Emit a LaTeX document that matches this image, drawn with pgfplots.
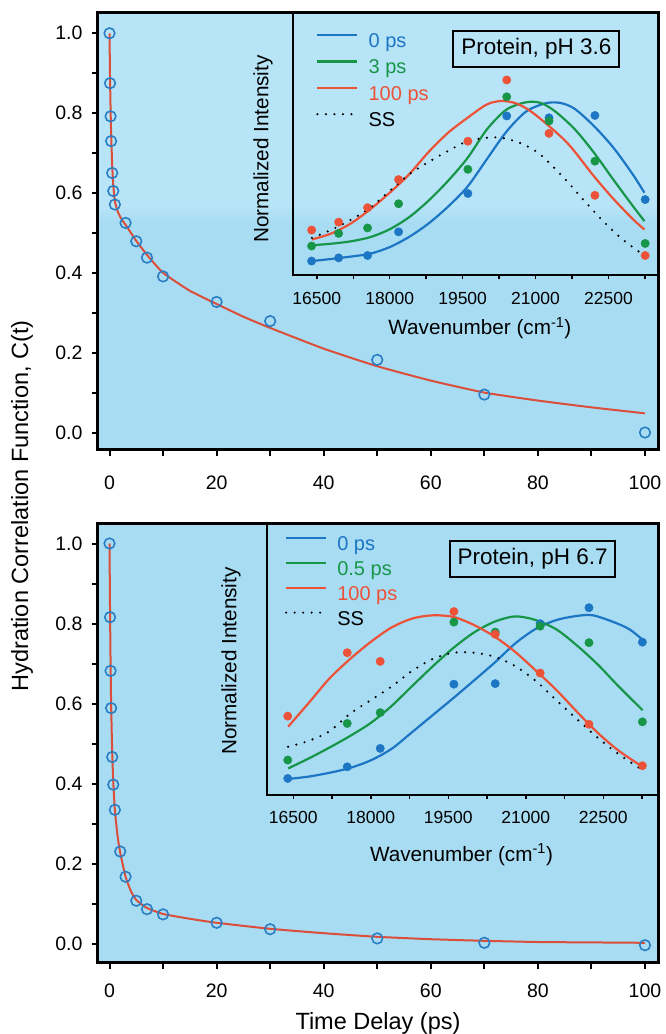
\documentclass[border=0pt]{standalone}
\usepackage{fontspec}
\setmainfont{Liberation Sans}
\usepackage{pgfplots}
\pgfplotsset{compat=1.18}
\usepackage{pgfplotstable}

\definecolor{bgblue}{RGB}{168,220,243}
\definecolor{bglight}{RGB}{184,228,247}
\definecolor{cblue}{RGB}{28,118,196}
\definecolor{cgreen}{RGB}{24,150,72}
\definecolor{cred}{RGB}{236,82,56}
\definecolor{fitred}{RGB}{218,78,58}
\definecolor{circblue}{RGB}{42,126,196}

% ---------- hydration correlation function C(t) ----------
\pgfplotstableread{
t    C
0    1.000
0.1  0.875
0.2  0.792
0.3  0.730
0.5  0.650
0.7  0.605
1    0.571
3    0.525
5    0.479
7    0.438
10   0.391
20   0.327
30   0.279
50   0.182
70   0.095
100  0.000
}\ctacid
\pgfplotstableread{
t    C
0    1.000
0.1  0.885
0.2  0.810
0.3  0.750
0.5  0.670
0.7  0.620
1    0.580
1.5  0.555
2    0.540
3    0.520
4    0.500
5    0.480
7    0.445
10   0.400
15   0.355
20   0.322
25   0.290
30   0.262
40   0.210
50   0.166
60   0.130
70   0.100
80   0.080
90   0.063
100  0.048
}\fitacid
\pgfplotstableread{
t    C
0    1.000
0.1  0.816
0.2  0.682
0.3  0.589
0.5  0.467
0.7  0.398
1    0.335
2    0.231
3    0.168
5    0.108
7    0.087
10   0.074
20   0.053
30   0.037
50   0.014
70   0.003
100  -0.003
}\ctneutral
\pgfplotstableread{
t    C
0    1.000
0.1  0.830
0.2  0.700
0.3  0.600
0.5  0.480
0.7  0.405
1    0.335
1.5  0.270
2    0.228
3    0.168
4    0.132
5    0.110
7    0.090
10   0.075
15   0.063
20   0.053
30   0.038
40   0.027
50   0.018
60   0.012
70   0.008
80   0.005
90   0.004
100  0.003
}\fitneutral

% ---------- time-resolved spectra, pH 3.6 ----------
\pgfplotstableread{
wn     b      g      r
16393  0.055  0.112  0.173
16949  0.067  0.160  0.203
17544  0.076  0.181  0.258
18182  0.166  0.273  0.365
19608  0.312  0.404  0.511
20408  0.607  0.680  0.744
21277  0.600  0.588  0.541
22222  0.609  0.435  0.305
23256  0.289  0.122  0.076
}\ptsacid
% fitted spectra: 0 ps, 3 ps, 100 ps and steady state
\pgfplotstableread{
wn     y
16400  0.055
16800  0.063
17200  0.072
17600  0.083
18000  0.108
18400  0.147
18800  0.198
19200  0.262
19600  0.338
20000  0.443
20400  0.547
20800  0.623
21200  0.655
21500  0.657
21800  0.635
22200  0.569
22600  0.487
23000  0.385
23240  0.315
}\blueacid
\pgfplotstableread{
wn     y
16400  0.115
16800  0.121
17200  0.130
17600  0.146
18000  0.176
18400  0.222
18800  0.285
19200  0.360
19600  0.447
20000  0.556
20400  0.631
20800  0.659
21100  0.657
21400  0.625
21800  0.558
22200  0.468
22600  0.365
23000  0.265
23240  0.207
}\greenacid
\pgfplotstableread{
wn     y
16400  0.137
16800  0.160
17200  0.198
17600  0.252
18000  0.315
18400  0.385
18800  0.470
19200  0.543
19600  0.600
20000  0.651
20300  0.664
20600  0.655
20900  0.625
21300  0.565
21700  0.495
22200  0.378
22600  0.292
23000  0.215
23240  0.175
}\redacid
\pgfplotstableread{
wn     y
16400  0.143
16800  0.174
17200  0.212
17600  0.258
18000  0.322
18400  0.385
18800  0.432
19200  0.474
19600  0.511
20000  0.524
20300  0.524
20700  0.503
21100  0.460
21600  0.368
22000  0.285
22400  0.205
22800  0.136
23240  0.076
}\ssacid

% ---------- time-resolved spectra, pH 6.7 ----------
\pgfplotstableread{
wn     b      g      r
16393  0.061  0.129  0.291
17544  0.104  0.264  0.525
18182  0.172  0.304  0.493
19608  0.409  0.638  0.677
20408  0.411  0.601  0.593
21277  0.632  0.623  0.450
22222  0.691  0.562  0.261
23256  0.564  0.270  0.108
}\ptsneutral
\pgfplotstableread{
wn     y
16400  0.059
16800  0.068
17200  0.082
17600  0.100
18000  0.128
18400  0.170
18800  0.232
19200  0.295
19600  0.358
20000  0.423
20400  0.489
20800  0.560
21200  0.614
21600  0.646
22000  0.661
22300  0.663
22700  0.638
23000  0.612
23260  0.573
}\blueneutral
\pgfplotstableread{
wn     y
16400  0.098
16800  0.135
17200  0.175
17600  0.218
18000  0.266
18400  0.328
18800  0.402
19200  0.475
19600  0.543
20000  0.600
20400  0.640
20800  0.659
21200  0.645
21600  0.610
22000  0.550
22400  0.480
22800  0.400
23260  0.313
}\greenneutral
\pgfplotstableread{
wn     y
16400  0.252
16800  0.340
17200  0.430
17600  0.502
18000  0.565
18400  0.618
18800  0.651
19200  0.663
19600  0.657
20000  0.627
20400  0.584
20800  0.527
21200  0.458
21600  0.386
22000  0.305
22400  0.228
22800  0.163
23260  0.104
}\redneutral
\pgfplotstableread{
wn     y
16400  0.178
16800  0.200
17200  0.235
17600  0.300
18000  0.350
18400  0.400
18800  0.458
19200  0.502
19600  0.525
20000  0.525
20400  0.510
20800  0.475
21200  0.420
21600  0.348
22000  0.278
22400  0.210
22800  0.150
23260  0.092
}\ssneutral

\pgfplotsset{
  mainax/.style={
    scale only axis, width=560pt,
    xmin=-2.15, xmax=102.43,
    axis on top,
    axis line style={line width=3pt},
    tick align=outside, tick pos=left,
    xtick={0,20,40,60,80,100}, xticklabels={0,20,40,60,80,100},
    minor xtick={10,30,50,70,90},
    ytick={0,0.2,0.4,0.6,0.8,1.0}, yticklabels={0.0,0.2,0.4,0.6,0.8,1.0},
    minor ytick={0.1,0.3,0.5,0.7,0.9},
    major tick length=6pt, minor tick length=6pt,
    tick style={black, line width=2pt},
    tick label style={font=\fontsize{19.5}{23}\selectfont},
    yticklabel style={xshift=-6pt},
    /pgf/number format/assume math mode=true,
    axis background/.style={fill=bgblue},
  },
  insetax/.style={
    scale only axis, ymin=0, ymax=1,
    axis line style={line width=2pt},
    tick align=outside, tick pos=left,
    scaled x ticks=false,
    xtick={16500,18000,19500,21000,22500},
    xticklabels={16500,18000,19500,21000,22500},
    minor xtick={17250,18750,20250,21750,23250},
    ytick=\empty,
    major tick length=4pt, minor tick length=4pt,
    tick style={black, line width=1.5pt},
    tick label style={font=\fontsize{17.5}{21}\selectfont},
    xticklabel style={yshift=-9pt},
    /pgf/number format/assume math mode=true,
    xlabel={Wavenumber (cm\textsuperscript{-1})},
    ylabel={Normalized Intensity},
    label style={font=\fontsize{20.7}{24}\selectfont},
    legend cell align=left,
    legend style={draw=none, fill=none, font=\fontsize{20}{24}\selectfont,
      anchor=north west, row sep=7.4pt, column sep=10pt,
      nodes={inner sep=0pt, text height=15pt, text depth=4pt}},
    legend image code/.code={\draw[#1] (0pt,7pt) -- (40pt,7pt);},
  },
  curve/.style={smooth, tension=0.5, line width=2.2pt, no marks},
  ssline/.style={smooth, tension=0.5, black, line width=2.4pt, line cap=round,
    dash pattern=on 0pt off 8.5pt, no marks},
  dots/.style={only marks, mark=*, mark size=4.2pt, forget plot},
  fitline/.style={smooth, tension=0.3, fitred, line width=2pt, no marks},
  circs/.style={only marks, mark=o, mark size=5.3pt,
    mark options={draw=circblue, line width=1.6pt}},
}

\begin{document}
\begin{tikzpicture}
\useasboundingbox (0,0) rectangle (666pt,1034pt);

% ===== upper panel: pH 3.6 =====
\begin{axis}[mainax, at={(98pt,584pt)}, anchor=south west, height=437pt,
  ymin=-0.0438, ymax=1.0508, xticklabel style={yshift=-16pt}]
  \fill[bglight] (rel axis cs:0,0.56) rectangle (rel axis cs:1,1);
  \shade[bottom color=bgblue, top color=bglight] (rel axis cs:0,0.52) rectangle (rel axis cs:1,0.56);
  \addplot[fitline] table[x=t, y=C] {\fitacid};
  \addplot[circs] table[x=t, y=C] {\ctacid};
\end{axis}

\begin{axis}[insetax, at={(293pt,758.5pt)}, anchor=south west,
  width=365pt, height=262.8pt, xmin=16010, xmax=23520,
  xlabel style={at={(axis description cs:0.512,-0.20)}, anchor=center},
  ylabel style={at={(axis description cs:-0.082,0.481)}, anchor=center},
  legend style={at={(axis description cs:0.0548,0.933)}}]
  \addplot[curve, cblue]  table[x=wn, y=y] {\blueacid};
  \addlegendentry{\textcolor{cblue}{0 ps}}
  \addplot[curve, cgreen] table[x=wn, y=y] {\greenacid};
  \addlegendentry{\textcolor{cgreen}{3 ps}}
  \addplot[curve, cred]   table[x=wn, y=y] {\redacid};
  \addlegendentry{\textcolor{cred}{100 ps}}
  \addplot[ssline]        table[x=wn, y=y] {\ssacid};
  \addlegendentry{SS}
  \addplot[dots, cblue]  table[x=wn, y=b] {\ptsacid};
  \addplot[dots, cgreen] table[x=wn, y=g] {\ptsacid};
  \addplot[dots, cred]   table[x=wn, y=r] {\ptsacid};
  \node[draw=black, line width=2pt, fill=none, minimum width=166pt,
    minimum height=35.7pt, inner sep=0pt, font=\fontsize{22.5}{26}\selectfont]
    at (axis description cs:0.667,0.862) {Protein, pH 3.6};
\end{axis}

% ===== lower panel: pH 6.7 =====
\begin{axis}[mainax, at={(98pt,71pt)}, anchor=south west, height=439pt,
  ymin=-0.0474, ymax=1.0487, xticklabel style={yshift=-11pt},
  xlabel={Time Delay (ps)},
  xlabel style={at={(axis description cs:0.5,-0.1367)}, anchor=center,
    font=\fontsize{23.5}{28}\selectfont}]
  \addplot[fitline] table[x=t, y=C] {\fitneutral};
  \addplot[circs] table[x=t, y=C] {\ctneutral};
\end{axis}

\begin{axis}[insetax, at={(267.3pt,239pt)}, anchor=south west,
  width=390.7pt, height=271pt, xmin=15997, xmax=23558,
  xlabel style={at={(axis description cs:0.497,-0.221)}, anchor=center},
  ylabel style={at={(axis description cs:-0.093,0.494)}, anchor=center},
  legend style={at={(axis description cs:0.0369,0.967)}, row sep=6pt}]
  \addplot[curve, cblue]  table[x=wn, y=y] {\blueneutral};
  \addlegendentry{\textcolor{cblue}{0 ps}}
  \addplot[curve, cgreen] table[x=wn, y=y] {\greenneutral};
  \addlegendentry{\textcolor{cgreen}{0.5 ps}}
  \addplot[curve, cred]   table[x=wn, y=y] {\redneutral};
  \addlegendentry{\textcolor{cred}{100 ps}}
  \addplot[ssline]        table[x=wn, y=y] {\ssneutral};
  \addlegendentry{SS}
  \addplot[dots, cblue]  table[x=wn, y=b] {\ptsneutral};
  \addplot[dots, cgreen] table[x=wn, y=g] {\ptsneutral};
  \addplot[dots, cred]   table[x=wn, y=r] {\ptsneutral};
  \node[draw=black, line width=2pt, fill=none, minimum width=165pt,
    minimum height=35.7pt, inner sep=0pt, font=\fontsize{22.5}{26}\selectfont]
    at (axis description cs:0.679,0.871) {Protein, pH 6.7};
\end{axis}

% shared ordinate title
\node[rotate=90, font=\fontsize{23.5}{28}\selectfont] at (22pt,528pt)
  {Hydration Correlation Function, C(t)};
\end{tikzpicture}
\end{document}
